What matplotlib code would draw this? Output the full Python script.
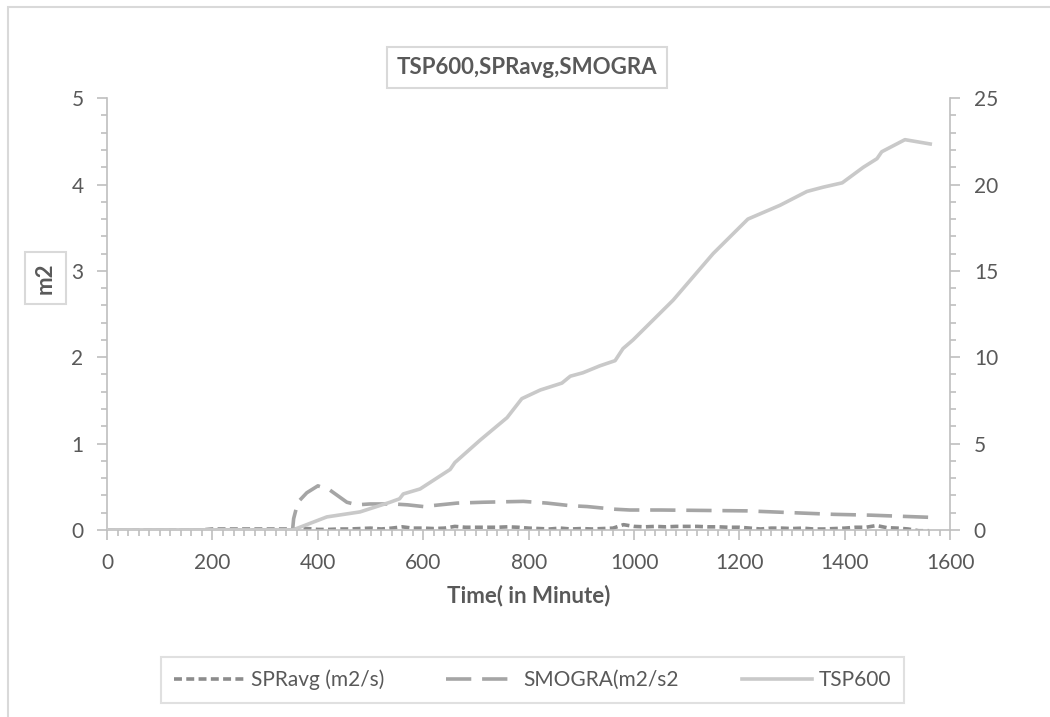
import matplotlib.pyplot as plt
from matplotlib.ticker import MultipleLocator
from matplotlib.patches import Rectangle

plt.rcParams['font.family'] = ['Lato', 'DejaVu Sans']

# SPRavg (m2/s), sampled every 20 minutes
spr_time = list(range(0, 1561, 20))
spr_vals = [0.0, 0.0, 0.0, 0.0, 0.0, 0.0, 0.0, 0.0, 0.0, 0.0,
            0.01, 0.01, 0.01, 0.01, 0.01, 0.01, 0.01, 0.01,
            0.01, 0.015, 0.005, 0.005, 0.01, 0.01, 0.015, 0.02, 0.01, 0.02,
            0.035, 0.02, 0.02, 0.015, 0.02, 0.04, 0.03, 0.03, 0.03, 0.03,
            0.035, 0.03, 0.02, 0.015, 0.01, 0.02, 0.01, 0.015, 0.01, 0.015,
            0.02, 0.06, 0.04, 0.035, 0.04, 0.035, 0.04, 0.04, 0.04, 0.035,
            0.035, 0.03, 0.03, 0.02, 0.01, 0.02, 0.02, 0.015, 0.02, 0.01,
            0.01, 0.015, 0.02, 0.03, 0.03, 0.05, 0.025, 0.02, 0.01, -0.01, -0.01]

# SMOGRA (m2/s2)
smo_time = [0, 100, 200, 300, 352, 354, 362, 379, 400, 423, 455, 474, 499, 543,
            570, 600, 664, 714, 790, 835, 879, 911, 961, 992, 1050, 1214,
            1296, 1378, 1450, 1562]
smo_vals = [0.0, 0.0, 0.0, 0.0, 0.0, 0.13, 0.32, 0.43, 0.51, 0.46, 0.32, 0.29, 0.3, 0.3,
            0.29, 0.27, 0.31, 0.32, 0.33, 0.31, 0.28, 0.27, 0.24, 0.23, 0.23, 0.22,
            0.2, 0.18, 0.17, 0.145]

# TSP600 (right axis)
tsp_time = [0, 100, 200, 300, 353, 417, 480, 537, 555, 562, 594, 651, 660, 708,
            759, 787, 822, 863, 879, 903, 935, 964, 979, 998, 1074, 1150,
            1216, 1277, 1328, 1359, 1395, 1435, 1461, 1470, 1514, 1562]
tsp_vals = [0.0, 0.0, 0.0, 0.0, 0.0, 0.75, 1.04, 1.6, 1.8, 2.08, 2.37, 3.5, 3.9, 5.2,
            6.5, 7.6, 8.1, 8.5, 8.9, 9.1, 9.5, 9.8, 10.5, 11.0, 13.3, 16.0,
            18.0, 18.8, 19.6, 19.85, 20.1, 21.0, 21.5, 21.9, 22.6, 22.35]

txt = '#595959'
grid_c = '#bfbfbf'

fig = plt.figure(figsize=(10.5, 7.17), dpi=100)
ax = fig.add_axes([0.102, 0.261, 0.803, 0.602])
ax2 = ax.twinx()

l1, = ax.plot(spr_time, spr_vals, color='#8c8c8c', lw=2.6, dashes=(2.2, 1.2),
              label='SPRavg (m2/s)')
l2, = ax.plot(smo_time, smo_vals, color='#a5a5a5', lw=2.6, dashes=(7, 3),
              label='SMOGRA(m2/s2')
l3, = ax2.plot(tsp_time, tsp_vals, color='#c9c9c9', lw=2.6, label='TSP600')

ax.set_xlim(0, 1600)
ax.set_ylim(0, 5)
ax2.set_ylim(0, 25)
ax.xaxis.set_major_locator(MultipleLocator(200))
ax.xaxis.set_minor_locator(MultipleLocator(20))
ax.yaxis.set_major_locator(MultipleLocator(1))
ax.yaxis.set_minor_locator(MultipleLocator(0.2))
ax2.yaxis.set_major_locator(MultipleLocator(5))
ax2.yaxis.set_minor_locator(MultipleLocator(1))

for a in (ax, ax2):
    for s in a.spines.values():
        s.set_visible(False)
    a.tick_params(which='both', colors=grid_c, labelcolor=txt, labelsize=15, width=1.2)
    a.tick_params(which='major', length=7, pad=10)
    a.tick_params(which='minor', length=4)
ax.spines['left'].set_visible(True)
ax.spines['bottom'].set_visible(True)
ax2.spines['right'].set_visible(True)
ax.spines['left'].set_color(grid_c)
ax.spines['bottom'].set_color(grid_c)
ax2.spines['right'].set_color(grid_c)
for s in (ax.spines['left'], ax.spines['bottom'], ax2.spines['right']):
    s.set_linewidth(1.2)

ax.set_xlabel('Time( in Minute)', fontsize=16, fontweight='bold', color=txt, labelpad=8)

box = dict(boxstyle='square,pad=0.45', facecolor='white', edgecolor='#d9d9d9', lw=1.5)
fig.text(0.502, 0.906, 'TSP600,SPRavg,SMOGRA', ha='center', va='center', fontsize=16,
         fontweight='bold', color=txt, bbox=box)
fig.text(0.043, 0.612, 'm2', ha='center', va='center', rotation=90, fontsize=16,
         fontweight='bold', color=txt, bbox=box)

leg = fig.legend([l1, l2, l3], [l1.get_label(), l2.get_label(), l3.get_label()],
                 loc='center', bbox_to_anchor=(0.507, 0.052), ncol=3, frameon=True,
                 fancybox=False, edgecolor='#d9d9d9', fontsize=15, handlelength=3.4,
                 columnspacing=3.0, borderpad=0.6, handletextpad=0.3)
leg.get_frame().set_linewidth(1.5)
for t in leg.get_texts():
    t.set_color(txt)

fig.patches.append(Rectangle((0.008, -0.01), 1.5, 1.0, transform=fig.transFigure,
                             fill=False, edgecolor='#d9d9d9', lw=1.5))

fig.savefig('out.png', dpi=100)
